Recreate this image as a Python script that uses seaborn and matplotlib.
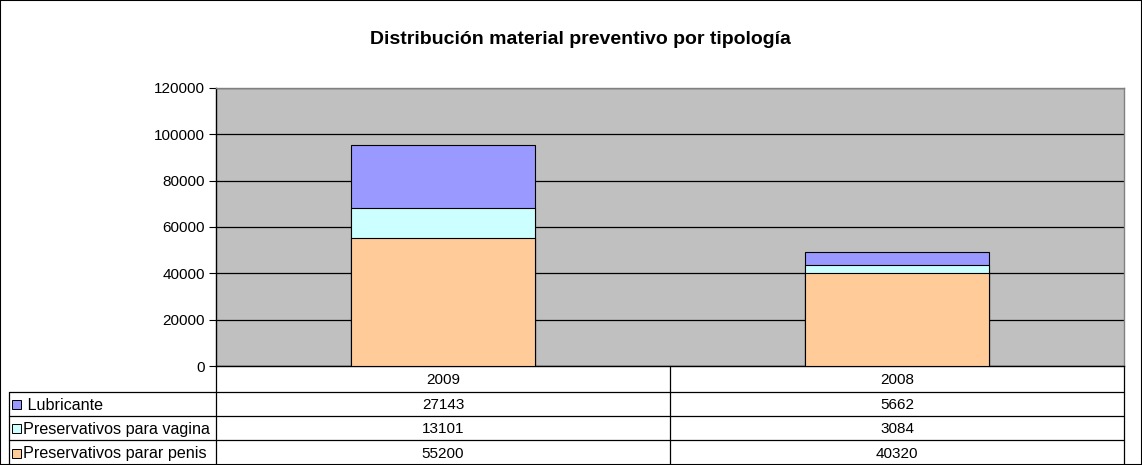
import numpy as np
import pandas as pd
import matplotlib
matplotlib.use("Agg")
import matplotlib.pyplot as plt
import seaborn as sns

# Data
years = ["2009", "2008"]
series_names = ["Lubricante", "Preservativos para vagina", "Preservativos parar penis"]
lubricante = [27143, 5662]
vagina = [13101, 3084]
penis = [55200, 40320]
series_colors = ["#9999FF", "#CCFFFF", "#FFCC99"]

sns.set_theme(style="white")
plt.rcParams["font.family"] = ["Liberation Sans", "DejaVu Sans"]
plt.rcParams["text.color"] = "black"
plt.rcParams["ytick.color"] = "black"
plt.rcParams["ytick.labelcolor"] = "black"

W, H = 1142, 465
fig = plt.figure(figsize=(W / 100, H / 100), dpi=100)

# plot area in pixel units
px_l, px_r, px_t, px_b = 216, 1124, 88, 366
ax = fig.add_axes([px_l / W, 1 - px_b / H, (px_r - px_l) / W, (px_b - px_t) / H])
ax.set_facecolor("#C0C0C0")

# stacked bars: draw cumulative totals from top to bottom
df = pd.DataFrame({"year": years,
                   "penis": penis,
                   "vagina": vagina,
                   "lubricante": lubricante})
df["top"] = df["penis"] + df["vagina"] + df["lubricante"]
df["mid"] = df["penis"] + df["vagina"]

for col, c in zip(["top", "mid", "penis"], series_colors):
    sns.barplot(data=df, x="year", y=col, color=c, width=0.405,
                edgecolor="black", linewidth=0.8, saturation=1, ax=ax, zorder=3)

ax.set_ylim(0, 120000)
ax.set_yticks(np.arange(0, 120001, 20000))
ax.set_yticklabels([str(v) for v in range(0, 120001, 20000)], fontsize=11)
ax.yaxis.grid(True, color="black", linewidth=0.9)
ax.set_axisbelow(True)
ax.tick_params(axis="y", left=True, length=5, width=0.8, color="black",
               labelcolor="black", pad=3)
ax.set_xticks([])
ax.set_xlabel("")
ax.set_ylabel("")
for s in ax.spines.values():
    s.set_color("#808080")
    s.set_linewidth(1)
ax.spines["left"].set_color("black")
ax.spines["bottom"].set_color("black")

fig.text(580 / W, 1 - 40 / H,
         "Distribución material preventivo por tipología",
         ha="center", va="center", fontsize=14, fontweight="bold")

# data table below the plot, drawn in pixel coordinates
tb = fig.add_axes([0, 0, 1, 1], zorder=-1)
tb.set_xlim(0, W)
tb.set_ylim(H, 0)
tb.axis("off")
col_mid = 670
rows_y = [366, 392, 416, 440, 465]
lc = "black"
for yy in rows_y[1:4]:
    tb.plot([9, px_r], [yy, yy], color=lc, lw=0.9)
tb.plot([9, 9], [rows_y[1], H], color=lc, lw=0.9)
for xx in [px_l, col_mid, px_r]:
    tb.plot([xx, xx], [rows_y[0], H], color=lc, lw=0.9)

col_centers = [(px_l + col_mid) / 2, (col_mid + px_r) / 2]
for x, yr in zip(col_centers, years):
    tb.text(x, (rows_y[0] + rows_y[1]) / 2 + 1, yr, ha="center", va="center", fontsize=11)

table_rows = [lubricante, vagina, penis]
labels_txt = [" Lubricante", "Preservativos para vagina", "Preservativos parar penis"]
for i, (vals, name, c) in enumerate(zip(table_rows, labels_txt, series_colors)):
    yc = (rows_y[i + 1] + rows_y[i + 2]) / 2 + 1
    tb.add_patch(plt.Rectangle((12, yc - 5), 9, 9, facecolor=c, edgecolor="black", lw=0.7))
    tb.text(23, yc, name, ha="left", va="center", fontsize=11.6)
    for x, v in zip(col_centers, vals):
        tb.text(x, yc, str(v), ha="center", va="center", fontsize=11)

# outer frame
fig.patches.append(plt.Rectangle((0, 0), 1, 1, transform=fig.transFigure,
                                 fill=False, edgecolor="black", lw=1.5))

fig.savefig("out.png", dpi=100)
